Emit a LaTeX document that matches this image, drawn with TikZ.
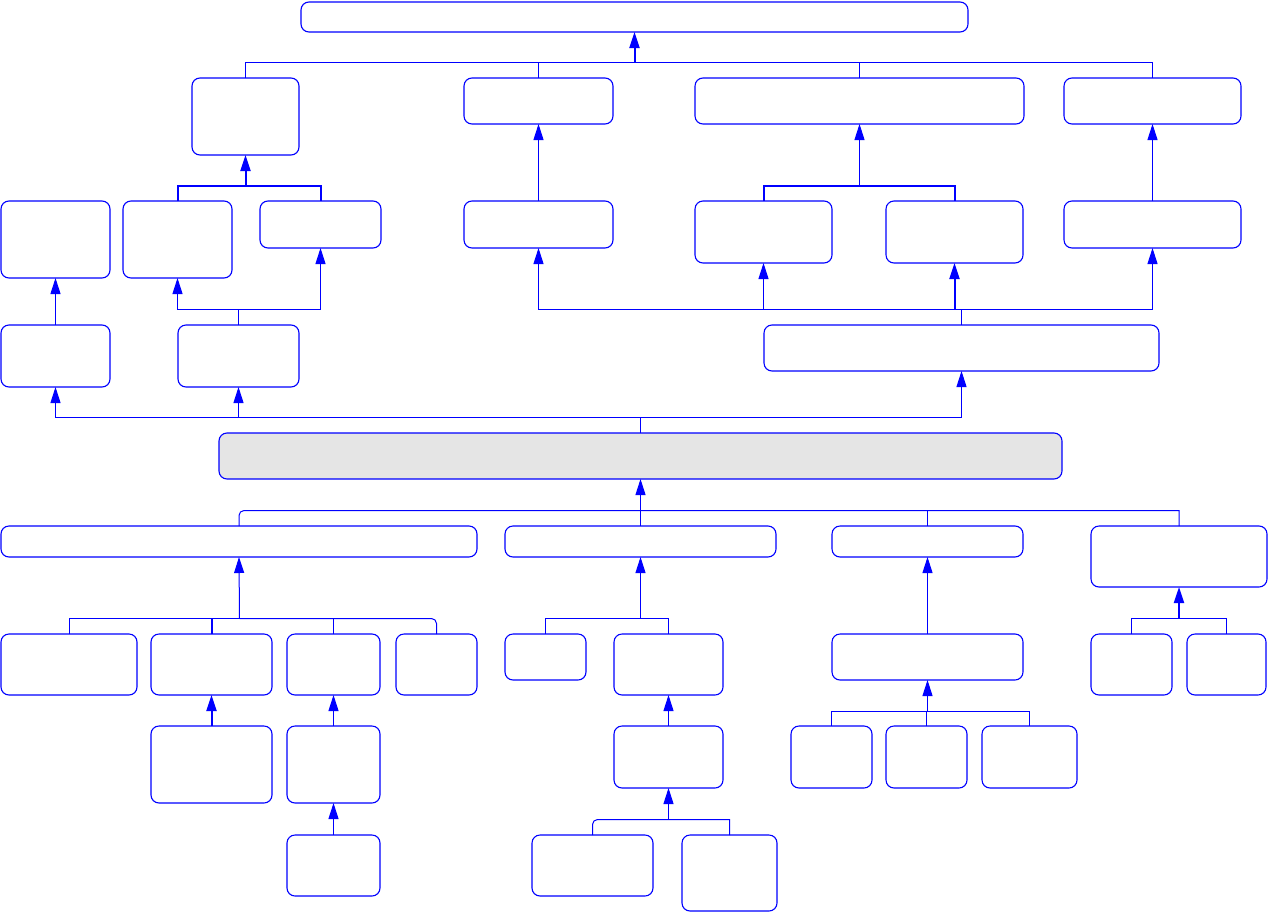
\documentclass[tikz,border=0pt]{standalone}
\usetikzlibrary{arrows.meta}
\definecolor{ln}{RGB}{0,0,255}
\definecolor{gfill}{RGB}{229,229,229}
\tikzset{
 box/.style={draw=ln, line width=1.1pt, rounded corners=8pt, fill=white, inner sep=0pt, outer sep=0pt},
 conn/.style={draw=ln, line width=1pt},
 arr/.style={conn, -{Triangle[length=16pt,width=10pt]}},
 heavy/.style={line width=2pt},
}
\newcommand\bx[6][]{\node[box, #1, minimum width={(#5-#3)*1pt}, minimum height={(#6-#4)*1pt}] (#2) at ({(#3+#5)/2},{(#4+#6)/2}) {};}
\begin{document}
\begin{tikzpicture}[x=1pt,y=-1pt]
\useasboundingbox (0,0) rectangle (1268,913);
% top
\bx{T}{301}{2}{968}{32}
% row B
\bx{B1}{192}{78}{299}{155}
\bx{B2}{464}{78}{613}{124}
\bx{B3}{695}{78}{1024}{124}
\bx{B4}{1064}{78}{1241}{124}
% row C
\bx{C1}{1}{201}{110}{278}
\bx{C2}{123}{201}{232}{278}
\bx{C3}{260}{201}{381}{248}
\bx{C4}{464}{201}{613}{248}
\bx{C5}{695}{201}{832}{263}
\bx{C6}{886}{201}{1023}{263}
\bx{C7}{1064}{201}{1241}{248}
% row D
\bx{D1}{1}{325}{110}{387}
\bx{D2}{178}{325}{299}{387}
\bx{D3}{764}{325}{1159}{371}
% central grey box
\bx[fill=gfill]{Gb}{219}{433}{1062}{479}
% row F
\bx{F1}{1}{526}{477}{557}
\bx{F2}{505}{526}{776}{557}
\bx{F3}{832}{526}{1023}{557}
\bx{F4}{1091}{526}{1267}{587}
% row G
\bx{G1}{1}{634}{137}{695}
\bx{G2}{151}{634}{272}{695}
\bx{G3}{287}{634}{380}{695}
\bx{G4}{396}{634}{477}{695}
\bx{G5}{505}{634}{586}{680}
\bx{G6}{614}{634}{723}{695}
\bx{G7}{832}{634}{1023}{680}
\bx{G8}{1091}{634}{1172}{695}
\bx{G9}{1187}{634}{1266}{695}
% row H
\bx{H1}{151}{726}{272}{803}
\bx{H2}{287}{726}{380}{803}
\bx{H3}{614}{726}{723}{788}
\bx{H4}{791}{726}{872}{788}
\bx{H5}{886}{726}{967}{788}
\bx{H6}{982}{726}{1077}{788}
% row I
\bx{I1}{287}{835}{380}{896}
\bx{I2}{532}{835}{653}{896}
\bx{I3}{682}{835}{777}{911}

% junctions
\coordinate (jT) at (634.5,62.5);
\coordinate (jB1) at (245.5,185.5);
\coordinate (jB3) at (859.5,185.5);
\coordinate (jD2) at (238.5,309.5);
\coordinate (jD3) at (961.5,309.5);
\coordinate (jG) at (640.5,417.5);
\coordinate (jF) at (640.5,510.5);
\coordinate (jF1) at (239.5,618.5);
\coordinate (jF2) at (640.5,618.5);
\coordinate (jF4) at (1179,618.5);
\coordinate (jG7) at (927.5,711.5);
\coordinate (jH3) at (668.5,819.5);

% row B -> T
\draw[conn] (B1.north) |- (B4.north |- jT) -- (B4.north);
\draw[conn] (B2.north) -- (B2.north |- jT);
\draw[conn] (B3.north) -- (B3.north |- jT);
\draw[arr,heavy] (jT) -- (T.south);
% row C -> B
\draw[conn,heavy] (C2.north) |- (C3.north |- jB1) -- (C3.north);
\draw[arr,heavy] (jB1) -- (B1.south);
\draw[arr] (C4.north) -- (B2.south);
\draw[conn,heavy] (C5.north) |- (C6.north |- jB3) -- (C6.north);
\draw[arr] (jB3) -- (B3.south);
\draw[arr] (C7.north) -- (B4.south);
% row D -> C
\draw[arr] (D1.north) -- (C1.south);
\draw[conn] (D2.north) -- (jD2);
\draw[arr] (jD2) -| (C2.south);
\draw[arr] (jD2) -| (C3.south);
\draw[conn] (D3.north) -- (jD3);
\draw[arr] (jD3) -| (C4.south);
\draw[arr] (jD3) -| (C5.south);
\draw[arr,heavy] (jD3 -| C6.south) -- (C6.south);
\draw[arr] (jD3) -| (C7.south);
% grey -> D
\draw[conn] (Gb.north) -- (jG);
\draw[arr] (jG) -| (D1.south);
\draw[arr] (jG) -| (D2.south);
\draw[arr] (jG) -| (D3.south);
% row F -> grey
\draw[conn] (F1.north) [rounded corners=5pt] |- (jF) [sharp corners] -| (F4.north);
\draw[conn] (F2.north) -- (jF);
\draw[conn] (F3.north) -- (F3.north |- jF);
\draw[arr] (jF) -- (Gb.south);
% row G -> F
\draw[conn] (G1.north) |- (jF1);
\draw[conn, rounded corners=5pt] (jF1) -| (G4.north);
\draw[conn,heavy] (G2.north) -- (G2.north |- jF1);
\draw[conn] (G3.north) -- (G3.north |- jF1);
\draw[arr] (jF1) -- (F1.south);
\draw[conn] (G5.north) |- (jF2) -| (G6.north);
\draw[arr] (jF2) -- (F2.south);
\draw[arr] (G7.north) -- (F3.south);
\draw[conn] (G8.north) |- (jF4) -| (G9.north);
\draw[arr,heavy] (jF4) -- (F4.south);
% row H -> G
\draw[arr,heavy] (H1.north) -- (G2.south);
\draw[arr] (H2.north) -- (G3.south);
\draw[arr] (H3.north) -- (G6.south);
\draw[conn] (H4.north) |- (jG7) -| (H6.north);
\draw[conn] (H5.north) -- (H5.north |- jG7);
\draw[arr] (jG7) -- (G7.south);
% row I -> H
\draw[arr] (I1.north) -- (H2.south);
\draw[conn] (I2.north) [rounded corners=5pt] |- (jH3) [sharp corners] -| (I3.north);
\draw[arr] (jH3) -- (H3.south);
\end{tikzpicture}
\end{document}
